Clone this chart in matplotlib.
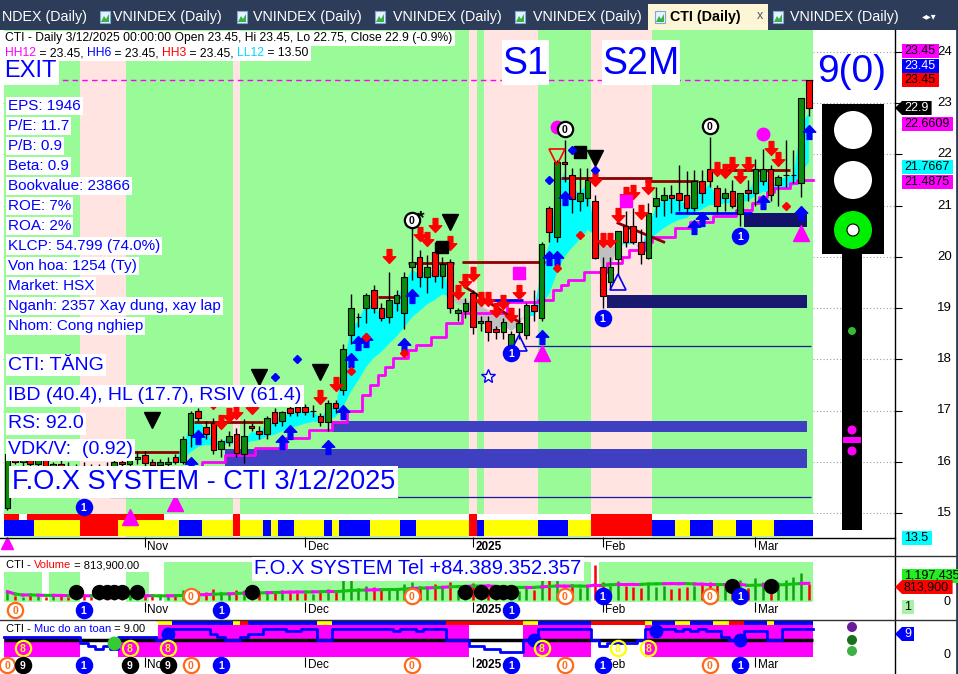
import matplotlib
matplotlib.use("Agg")
import matplotlib.pyplot as plt
from matplotlib.patches import Rectangle, Circle, Polygon
from matplotlib.path import Path
import numpy as np
import pandas as pd

plt.rcParams['font.family'] = ['Liberation Sans', 'DejaVu Sans']

# ---------------- values ----------------
opens = [
    15.10, 16.15, 16.00, 16.05, 15.95, 16.05, 15.90, 15.95, 15.90, 15.85,
    15.90, 15.85, 15.80, 15.90, 15.85, 16.00, 15.95, 16.05, 16.13, 15.99,
    15.93, 15.96, 16.09, 15.99, 16.52, 16.99, 16.68, 16.76, 16.24, 16.38,
    16.54, 16.15, 16.70, 16.60, 16.54, 16.97, 16.79, 17.05, 17.07, 17.07,
    17.00, 16.89, 16.77, 17.14, 17.40, 18.47, 18.83, 19.00, 19.35, 19.00,
    18.83, 19.10, 18.90, 19.80, 20.00, 19.60, 20.10, 19.63, 19.90, 18.90,
    18.94, 19.30, 18.71, 18.75, 18.60, 18.53, 18.24, 18.53, 18.47, 19.06,
    18.80, 20.95, 20.39, 21.86, 21.60, 21.10, 21.14, 21.10, 19.80, 19.51,
    19.96, 20.60, 20.60, 20.30, 19.98, 20.99, 21.11, 21.21, 21.24, 21.21,
    20.95, 21.49, 21.71, 21.35, 21.14, 21.29, 20.84, 21.30, 21.24, 21.49,
    21.71, 21.40, 21.60, 21.60, 21.45, 23.45]
highs = [
    16.25, 16.25, 16.10, 16.15, 16.10, 16.10, 16.00, 16.05, 16.00, 15.95,
    16.00, 15.95, 15.95, 16.00, 16.05, 16.10, 16.10, 16.20, 16.20, 16.05,
    16.05, 16.10, 16.15, 16.50, 17.00, 17.05, 16.80, 16.85, 16.45, 16.60,
    16.65, 16.83, 16.75, 16.70, 16.90, 17.05, 17.00, 17.10, 17.12, 17.12,
    17.10, 16.95, 17.20, 17.20, 18.30, 19.27, 18.90, 19.30, 19.45, 19.10,
    19.70, 19.35, 19.70, 20.60, 20.13, 20.03, 20.30, 20.00, 19.95, 19.00,
    19.20, 19.35, 18.85, 18.85, 18.65, 18.80, 18.55, 19.00, 19.10, 19.35,
    20.30, 21.00, 21.90, 22.28, 21.73, 21.73, 21.73, 21.20, 20.00, 20.00,
    20.50, 20.90, 20.95, 20.55, 21.05, 21.37, 21.37, 21.40, 21.80, 21.68,
    21.70, 21.70, 22.34, 21.40, 21.35, 21.50, 21.25, 21.50, 21.92, 22.10,
    21.80, 21.60, 22.28, 22.09, 23.10, 23.45]
lows = [
    15.05, 15.95, 15.90, 15.90, 15.85, 15.85, 15.80, 15.85, 15.80, 15.75,
    15.80, 15.75, 15.75, 15.80, 15.80, 15.90, 15.85, 15.95, 15.90, 15.85,
    15.85, 15.90, 15.95, 15.95, 16.28, 16.80, 16.45, 16.15, 16.10, 16.30,
    16.10, 15.97, 16.60, 16.45, 16.45, 16.70, 16.70, 16.90, 16.90, 16.92,
    16.87, 16.70, 16.60, 16.95, 17.30, 18.30, 18.63, 18.70, 18.90, 18.75,
    18.70, 18.95, 18.60, 19.55, 19.41, 19.30, 19.50, 19.40, 18.90, 18.75,
    18.80, 18.50, 18.55, 18.35, 18.40, 18.40, 18.15, 18.40, 18.40, 18.75,
    18.75, 20.30, 20.30, 21.46, 20.86, 20.90, 21.00, 19.95, 19.00, 19.37,
    19.65, 20.20, 20.25, 19.86, 19.95, 20.78, 20.80, 20.85, 20.90, 20.86,
    20.90, 21.05, 21.37, 20.86, 20.90, 20.95, 20.60, 21.10, 21.00, 21.40,
    21.10, 21.00, 21.37, 21.44, 21.17, 22.75]
closes = [
    16.15, 16.00, 16.05, 15.95, 16.05, 15.90, 15.95, 15.90, 15.85, 15.90,
    15.85, 15.80, 15.90, 15.85, 16.00, 15.95, 16.05, 16.10, 15.97, 15.93,
    16.00, 16.00, 15.99, 16.44, 16.95, 16.85, 16.54, 16.23, 16.40, 16.50,
    16.17, 16.50, 16.66, 16.54, 16.85, 16.76, 16.97, 16.95, 16.97, 16.97,
    17.00, 16.77, 17.14, 17.05, 18.20, 19.00, 18.83, 19.25, 19.00, 18.80,
    19.16, 19.25, 19.60, 19.90, 19.60, 19.80, 19.63, 19.86, 19.00, 18.96,
    19.10, 18.63, 18.75, 18.53, 18.53, 18.73, 18.49, 18.71, 19.06, 18.94,
    20.25, 20.48, 21.85, 21.81, 21.13, 21.24, 21.50, 19.98, 19.24, 19.80,
    20.50, 20.30, 20.30, 20.05, 20.86, 21.14, 21.21, 21.14, 21.11, 20.95,
    21.49, 21.24, 21.49, 21.00, 21.24, 21.00, 21.24, 21.24, 21.71, 21.71,
    21.21, 21.55, 21.60, 21.60, 23.10, 22.90]
volumes = [  # thousand shares
    420, 180, 150, 260, 200, 170, 240, 190, 160, 210,
    180, 150, 230, 200, 170, 260, 220, 190, 240, 300,
    210, 260, 280, 520, 610, 450, 380, 560, 420, 350,
    480, 510, 300, 330, 450, 400, 480, 350, 330, 360,
    300, 420, 560, 380, 1050, 1150, 620, 700, 640, 520,
    600, 560, 780, 900, 700, 650, 820, 600, 900, 520,
    480, 850, 450, 600, 520, 480, 560, 430, 700, 520,
    1100, 1000, 1300, 700, 800, 600, 700, 1750, 900, 700,
    950, 700, 650, 600, 850, 650, 700, 550, 600, 650,
    700, 750, 900, 800, 700, 650, 1000, 600, 1100, 900,
    850, 900, 1000, 1150, 1350, 814]

holidays = ['2025-01-01', '2025-01-27', '2025-01-28', '2025-01-29', '2025-01-30', '2025-01-31']
dates = pd.bdate_range('2024-10-08', '2025-03-12', freq='C', holidays=holidays)

# background / ribbon states per bar
main_bg = 'g' * 10 + 'p' * 6 + 'g' * 14 + 'p' + 'g' * 30 + 'p' + 'g' + 'p' * 7 + 'g' * 7 + 'p' * 8 + 'g' * 21
ribbon_top = 'rr' + 'w' + 'r' * 18 + 'w' * 9 + 'r' + 'w' * 30 + 'r' + 'w' * 15 + 'r' * 8 + 'w' * 21
ribbon_low = ('b' * 4 + 'y' * 6 + 'r' * 5 + 'y' * 8 + 'b' * 3 + 'y' * 4 + 'r' + 'y' * 3 + 'b' + 'y' + 'b' * 2
              + 'y' * 4 + 'b' + 'y' + 'b' * 4 + 'y' * 4 + 'b' * 2 + 'y' * 7 + 'r' + 'b' + 'y' * 7 + 'b' * 4
              + 'y' * 3 + 'r' * 8 + 'b' * 3 + 'y' * 2 + 'b' * 3 + 'y' * 3 + 'b' * 2 + 'y' * 3 + 'b' * 5)
vol_bg = 'g' * 5 + 'w' + 'g' * 4 + 'w' * 6 + 'g' * 3 + 'w' * 2 + 'g' * 56 + 'w' + 'g' * 28

safety = ([6] * 10 + [4, 3, 2, 3, 2] + [6] * 5 + [5, 5] + [9] * 5 + [7, 6] + [5, 5] + [6, 7, 7]
          + [9, 9, 9, 8, 8, 9, 9] + [5, 5] + [9] * 8 + [8] + [9, 9, 8, 9, 9, 9] + [5, 5, 5] + [3, 3]
          + [2, 2] + [1, 1, 1] + [5, 5] + [9] * 7 + [5, 3, 4, 4, 4, 4, 5] + [9] * 4
          + [8, 9, 8, 9, 8, 8] + [6, 5, 5] + [8, 8, 8] + [5, 5] + [9] * 4)
safety_fill = 'h' * 10 + 'w' * 5 + 'h' * 5 + 'f' * 41 + 'w' * 7 + 'f' * 9 + 'w' * 7 + 'f' * 22
safety_strip = ('n' * 20 + 'y' * 2 + 'b' * 8 + 'y' + 'r' + 'b' * 9 + 'y' * 2 + 'b' * 15 + 'r' * 10 + 'y' * 2
                + 'b' * 7 + 'r' * 7 + 'y' + 'b' * 3 + 'y' * 2 + 'b' * 3 + 'y' * 2 + 'r' * 2 + 'b' * 3 + 'y' + 'b' * 5)

stop_steps = [(14, 15.87), (26, 15.99), (29, 16.13), (33, 16.27), (37, 16.46), (40, 16.62), (43, 16.77),
              (45, 17.0), (47, 17.3), (48, 17.5), (49, 17.69), (50, 17.85), (51, 18.02), (53, 18.18),
              (54, 18.28), (56, 18.43), (58, 18.71), (60, 18.9), (66, 19.12), (70, 19.16), (72, 19.35),
              (73, 19.45), (74, 19.55), (76, 19.7), (79, 19.88), (81, 20.0), (82, 20.13), (84, 20.29),
              (85, 20.39), (88, 20.56), (90, 20.68), (93, 20.8), (96, 20.91), (98, 21.05), (99, 21.17),
              (100, 21.27), (101, 21.34), (103, 21.44), (104, 21.5)]
resist = [(17, 22, 16.19), (25, 33, 16.77), (49, 51, 19.21), (53, 58, 19.88), (60, 70, 19.9),
          (73, 84, 21.54), (84, 90, 21.48), (93, 102, 21.7)]
trend_lines = [((60, 19.41), (67, 18.73)), ((80, 20.66), (86, 20.29))]
blue_lines = [(63, 67, 19.16), (88, 97, 20.85)]
support_zones = [(29, 16.25, 15.88, '#3f3fc2'), (43, 16.79, 16.58, '#3f3fc2'),
                 (79, 19.25, 19.0, '#191970'), (97, 20.86, 20.58, '#12126a')]
thin_lines = [(14, 15.31), (68, 18.26)]
exit_level = 23.45

red_arrow_bars = [27, 28, 29, 30, 32, 41, 43, 50, 54, 55, 56, 58, 59, 60, 61, 62, 63, 64, 65, 66, 67,
                  77, 78, 79, 80, 81, 82, 83, 84, 93, 94, 95, 96, 97, 100, 101]
blue_arrow_bars = [24, 25, 36, 37, 42, 44, 45, 46, 47, 52, 53, 70, 71, 72, 73, 90, 91, 99, 104, 105]
black_tri = [(19, 16.81), (33, 17.65), (41, 17.75), (58, 20.68), (77, 21.93)]
magenta_sq = [(67, 19.68), (81, 21.1)]
black_sq = [(57, 20.19), (75, 22.05)]
magenta_big = [(72, 22.54), (99, 22.4)]
zero_marks = [(53, 20.72), (73, 22.5), (92, 22.55)]
one_marks = [(10, 15.11), (66, 18.12), (78, 18.8), (96, 20.4)]
red_dots = [(45, 17.77), (47, 18.43), (52, 18.12), (72, 19.78), (75, 20.43), (102, 21.0)]
blue_dots = [(35, 17.65), (38, 18.0), (71, 21.5), (74, 22.09), (77, 21.7)]
magenta_tri_up = [(16, 14.92), (22, 15.19), (70, 18.12), (104, 20.46)]
hollow_tri = [(67, 18.32), (80, 19.51)]

vol_dot_bars = [9, 12, 13, 14, 15, 17, 32, 60, 62, 64, 65, 66, 95, 100]
vol_dot_vals = [400, 400, 400, 400, 400, 400, 400, 400, 400, 400, 400, 400, 700, 700]
zero_bars = [0, 24, 53, 73, 92]
one_bars = [10, 28, 66, 78, 96]
nine_bars = [2, 16, 21]
eight_bars = [2, 16, 21, 70, 80, 84]
safety_dots = [(21, 7, 'blue'), (69, 5, 'blue'), (85, 8, 'blue'), (96, 5, 'blue'), (14, 4, '#33cc33')]

info_lines = ["EPS: 1946", "P/E: 11.7", "P/B: 0.9", "Beta: 0.9", "Bookvalue: 23866", "ROE: 7%",
              "ROA: 2%", "KLCP: 54.799 (74.0%)", "Von hoa: 1254 (Ty)", "Market: HSX",
              "Nganh: 2357 Xay dung, xay lap", "Nhom: Cong nghiep"]

# ---------------- figure ----------------
W, H = 958, 674
fig = plt.figure(figsize=(W / 100, H / 100), dpi=100)
fig.patch.set_facecolor('white')

GREEN, PINK = '#98fb98', '#ffe4e1'
CGREEN, CRED = '#0b8a0b', '#ff0000'
RB = {'b': '#0000ff', 'y': '#ffff00', 'r': '#ff0000', 'w': 'white'}


def px_axes(x0, y0, x1, y1):
    a = fig.add_axes([x0 / W, 1 - y1 / H, (x1 - x0) / W, (y1 - y0) / H])
    for s in a.spines.values():
        s.set_visible(False)
    a.set_facecolor('white')
    return a


def runs(states):
    out, start = [], 0
    for i in range(1, len(states) + 1):
        if i == len(states) or states[i] != states[start]:
            out.append((start, i - 1, states[start]))
            start = i
    return out


def arrow(up=True):
    v = [(-0.17, -0.5), (0.17, -0.5), (0.17, 0.02), (0.45, 0.02), (0, 0.5), (-0.45, 0.02), (-0.17, 0.02), (-0.17, -0.5)]
    if not up:
        v = [(x, -y) for x, y in v]
    return Path(v, [Path.MOVETO] + [Path.LINETO] * 6 + [Path.CLOSEPOLY])


def badge(a, x, y, txt, face, edge, tcol, tr=None, ms=11, fs=7.5):
    tr = a.transData if tr is None else tr
    a.plot([x], [y], 'o', ms=ms, mfc=face, mec=edge, mew=1.6, transform=tr, clip_on=False, zorder=9)
    a.text(x, y, txt, transform=tr, ha='center', va='center_baseline', fontsize=fs,
           fontweight='bold', color=tcol, clip_on=False, zorder=10)


n = len(closes)
idx = np.arange(n)
o, h, l, c = map(np.array, (opens, highs, lows, closes))
up = c >= o
XL = (-0.58, 116.3)
month_pos = [i for i in range(1, n) if dates[i].month != dates[i - 1].month]
month_lab = [str(dates[i].year) if dates[i].month == 1 else dates[i].strftime('%b') for i in month_pos]

# ---------------- main price panel ----------------
ax = px_axes(3, 30, 895, 537)
ax.set_xlim(*XL)
ax.set_ylim(14.53, 24.43)
ax.hlines(range(15, 25), *XL, colors='#a0a0a0', linestyles=(0, (1, 2)), lw=0.8, zorder=0.2)
for a0, a1, s in runs(main_bg):
    ax.axvspan(a0 - 0.5, a1 + 0.5, color=GREEN if s == 'g' else PINK, lw=0, zorder=0.5)

xt = ax.get_xaxis_transform()
for a0, a1, s in runs(ribbon_top):
    ax.add_patch(Rectangle((a0 - 0.5, 0.0335), a1 - a0 + 1, 0.012, transform=xt, fc=RB[s], ec='none', zorder=2.5))
for a0, a1, s in runs(ribbon_low):
    ax.add_patch(Rectangle((a0 - 0.5, 0.002), a1 - a0 + 1, 0.0315, transform=xt, fc=RB[s], ec='none', zorder=2.5))

# trend cloud: fast vs slow average of the closes
fast = pd.Series(closes).ewm(span=2, adjust=False).mean().values
slow = pd.Series(closes).ewm(span=12, adjust=False).mean().values
s0 = 20
ax.fill_between(idx[s0:], fast[s0:], slow[s0:], where=fast[s0:] >= slow[s0:], color='#00ffff', interpolate=True, lw=0, zorder=1)
ax.fill_between(idx[s0:], fast[s0:], slow[s0:], where=fast[s0:] < slow[s0:], color='#c0c0c0', interpolate=True, lw=0, zorder=1)

for start, top, bot, col in support_zones:
    ax.add_patch(Rectangle((start - 0.5, bot), 105.3 - start, top - bot, fc=col, ec='none', zorder=1.5))
for start, lev in thin_lines:
    ax.hlines(lev, start - 0.5, 105.3, colors='#1a1a9a', lw=0.9, zorder=1.6)
ax.hlines(exit_level, -0.5, 105.5, colors='#ff00ff', linestyles=(0, (4, 3)), lw=1, zorder=1.6)

stop = np.full(n, np.nan)
for k, (b, v) in enumerate(stop_steps):
    e = stop_steps[k + 1][0] if k + 1 < len(stop_steps) else n
    stop[b:e] = v
sx = np.append(idx - 0.5, n - 0.5)
ax.step(sx, np.append(stop, stop[-1]), where='post', color='#ff00ff', lw=2, zorder=2)
for b0, b1, v in resist:
    ax.hlines(v, b0 - 0.5, b1 + 0.5, colors='#8b0000', lw=2, zorder=2)
for (b0, v0), (b1, v1) in trend_lines:
    ax.plot([b0, b1], [v0, v1], color='#8b0000', lw=2, zorder=2)
for b0, b1, v in blue_lines:
    ax.hlines(v, b0 - 0.5, b1 + 0.5, colors='#0000ff', lw=2, zorder=2)

ax.vlines(idx, l, h, colors='black', lw=1, zorder=3)
ax.bar(idx, np.abs(c - o), bottom=np.minimum(o, c), width=0.74,
       color=np.where(up, CGREEN, CRED), edgecolor='black', linewidth=0.8, zorder=3.5)

ra = np.array(red_arrow_bars)
ba = np.array(blue_arrow_bars)
ax.plot(ra, h[ra] + 0.32, ls='none', marker=arrow(False), ms=10, color=CRED, mec=CRED, zorder=4)
ax.plot(ba, l[ba] - 0.32, ls='none', marker=arrow(True), ms=10, color='#0000ff', mec='#0000ff', zorder=4)


def pts(lst):
    return [p[0] for p in lst], [p[1] for p in lst]


ax.plot(*pts(black_tri), ls='none', marker='v', ms=11, color='black', zorder=4)
ax.plot(*pts(magenta_sq), ls='none', marker='s', ms=9, color='#ff00ff', zorder=4)
ax.plot(*pts(black_sq), ls='none', marker='s', ms=9, color='black', zorder=4)
ax.plot(*pts(magenta_big), ls='none', marker='o', ms=9, color='#ff00ff', zorder=4)
ax.plot(*pts(red_dots), ls='none', marker='D', ms=4.5, color=CRED, zorder=4)
ax.plot(*pts(blue_dots), ls='none', marker='D', ms=4.5, color='#0000ff', zorder=4)
ax.plot(*pts(magenta_tri_up), ls='none', marker='^', ms=11, color='#ff00ff', zorder=4, clip_on=False)
ax.plot(*pts(hollow_tri), ls='none', marker='^', ms=11, mfc='none', mec='#0000ff', mew=1.2, zorder=4)
ax.plot([72], [21.95], ls='none', marker='v', ms=11, mfc='none', mec=CRED, mew=1.2, zorder=4)
ax.plot([63], [17.67], ls='none', marker='*', ms=10, mfc='white', mec='#0000ff', zorder=4)
ax.plot([0], [-0.012], ls='none', marker='^', ms=9, color='#ff00ff', transform=xt, clip_on=False, zorder=4)
for b, v in zero_marks:
    badge(ax, b, v, '0', 'white', 'black', 'black')
ax.text(54.2, 20.75, '*', fontsize=14, fontweight='bold', color='black', ha='center', va='center', zorder=10)
for b, v in one_marks:
    badge(ax, b, v, '1', '#0000ff', '#0000ff', 'white')

ax.yaxis.tick_right()
ax.set_yticks(range(15, 25))
ax.tick_params(axis='y', direction='out', length=5, labelright=False, labelleft=False, left=False)
ax.set_xticks(month_pos)
ax.tick_params(axis='x', direction='out', length=7, width=0.8, labelbottom=False)

# ---------------- volume panel ----------------
vax = px_axes(3, 556, 895, 602)
vax.set_xlim(*XL)
vax.set_ylim(-100, 2200)
for a0, a1, s in runs(vol_bg):
    if s == 'g':
        vax.axvspan(a0 - 0.5, a1 + 0.5, ymin=0, ymax=0.87, color=GREEN, lw=0, zorder=0.5)
vol = np.array(volumes)
vax.vlines(idx, 0, vol, colors=np.where(up, '#10a010', CRED), lw=1.8, zorder=2)
ma = pd.Series(vol).rolling(20, min_periods=1).mean().values
for i in range(1, n):
    vax.plot([i - 1, i], [ma[i - 1], ma[i]], color='#10c010' if up[i] else '#ff00ff', lw=2.2, zorder=3)
vax.plot(vol_dot_bars, vol_dot_vals, ls='none', marker='o', ms=10, color='black', zorder=4)
vax.set_yticks([])
vax.set_xticks(month_pos)
vax.tick_params(axis='x', direction='out', length=7, width=0.8, labelbottom=False)
vxt = vax.get_xaxis_transform()
for b in [24, 53, 73, 92]:
    badge(vax, b, 0.13, '0', 'white', '#ff6a1a', '#ff6a1a', tr=vxt)
for b in [78, 96]:
    badge(vax, b, 0.13, '1', '#0000ff', '#0000ff', 'white', tr=vxt)
badge(vax, 1, -0.174, '0', 'white', '#ff6a1a', '#ff6a1a', tr=vxt)
for b in [10, 28, 66]:
    badge(vax, b, -0.174, '1', '#0000ff', '#0000ff', 'white', tr=vxt)

# ---------------- safety panel ----------------
bax = px_axes(3, 620, 895, 657)
bax.set_xlim(*XL)
bax.set_ylim(-0.68, 11.91)
lev = np.array(safety, dtype=float)
for i, s in enumerate(safety_fill):
    if s == 'f':
        bax.bar(i, 10.2 + 0.68, bottom=-0.68, width=1.0, color='#ff00ff', lw=0, zorder=1)
    elif s == 'h':
        bax.bar(i, lev[i] + 0.68, bottom=-0.68, width=1.0, color='#ff00ff', lw=0, zorder=1)
bxt = bax.get_xaxis_transform()
for a0, a1, s in runs(safety_strip):
    if s != 'n':
        bax.add_patch(Rectangle((a0 - 0.5, 0.865), a1 - a0 + 1, 0.135, transform=bxt, fc=RB[s], ec='none', zorder=2))
bax.hlines(5.1, -0.5, n - 0.5, colors='black', lw=2.5, zorder=2)
bax.step(sx, np.append(lev, lev[-1]), where='post', color='#0000ff', lw=2, zorder=3)
for b, v, col in safety_dots:
    bax.plot([b], [v], 'o', ms=9, color=col, zorder=4)
for b in eight_bars:
    badge(bax, b, 2.4, '8', 'none', '#ffff00', '#ffff00', ms=11)
bax.set_yticks([])
bax.set_xticks(month_pos)
bax.tick_params(axis='x', direction='out', length=7, width=0.8, labelbottom=False)
for b in zero_bars:
    badge(bax, b, -0.216, '0', 'white', '#ff6a1a', '#ff6a1a', tr=bxt)
for b in one_bars:
    badge(bax, b, -0.216, '1', '#0000ff', '#0000ff', 'white', tr=bxt)
for b in nine_bars:
    badge(bax, b, -0.216, '9', 'black', 'black', 'white', tr=bxt)

for a, yy in ((ax, -0.0197), (vax, -0.174), (bax, -0.216)):
    for p, lab in zip(month_pos, month_lab):
        a.text(p + 0.35, yy, lab, transform=a.get_xaxis_transform(), fontsize=8.5, ha='left',
               va='center', fontweight='bold' if lab.isdigit() else 'normal', clip_on=False, zorder=8)

# ---------------- overlay (tabs, texts, widgets) ----------------
ov = fig.add_axes([0, 0, 1, 1])
ov.set_xlim(0, W)
ov.set_ylim(H, 0)
ov.axis('off')
ov.patch.set_alpha(0)
ov.set_zorder(20)

ov.add_patch(Rectangle((0, 0), W, 30, fc='#2d3c59', ec='none'))
tab_text_x = [2, 113, 253, 393, 533, 790]
for k, tx in enumerate(tab_text_x):
    ov.text(tx, 17, 'NDEX (Daily)' if k == 0 else 'VNINDEX (Daily)', color='white', fontsize=10.3, va='center')
ov.add_patch(Rectangle((648, 4), 120, 26, fc='#fdf6d6', ec='none'))
for ix in [100, 237, 375, 515, 655, 773]:
    ov.add_patch(Rectangle((ix, 11), 10, 12, fc='#e6f2ff', ec='#7fa7d8', lw=0.8))
    ov.add_patch(Polygon([(ix + 1, 22), (ix + 4, 16), (ix + 6, 19), (ix + 9, 14), (ix + 9, 22)], fc='#3cb043', ec='none'))
ov.text(670, 17, 'CTI (Daily)', color='black', fontsize=10.3, fontweight='bold', va='center')
ov.text(757, 16, 'x', color='#555555', fontsize=9, va='center')
ov.text(922, 16, '\u25c2\u25b8\u25be', color='white', fontsize=7, va='center', family='DejaVu Sans')

# frame lines
ov.plot([895, 895], [30, H], color='black', lw=1)
ov.plot([0, 895], [537.5, 537.5], color='black', lw=1)
ov.plot([0, W], [556, 556], color='#303030', lw=1)
ov.plot([0, W], [619.5, 619.5], color='#303030', lw=1)
ov.plot([957, 957], [30, H], color='#2d3c59', lw=2)

# header
ov.add_patch(Rectangle((3, 31), 452, 15, fc='white', ec='none'))
ov.add_patch(Rectangle((3, 46), 308, 15, fc='white', ec='none'))
ov.text(5, 38.5, 'CTI - Daily 3/12/2025 00:00:00 Open 23.45, Hi 23.45, Lo 22.75, Close 22.9 (-0.9%)', fontsize=8.7, va='center')


def multi_text(x, y, parts, fs):
    t = ov.text(x, y, parts[0][0], color=parts[0][1], fontsize=fs, va='center', ha='left', zorder=25)
    for s, col in parts[1:]:
        t = ov.annotate(s, xy=(1, 0), xycoords=t, xytext=(0, 0), textcoords='offset points',
                        color=col, fontsize=fs, va='bottom', ha='left', zorder=25)


multi_text(5, 53.5, [('HH12', '#ff00ff'), (' = 23.45, ', 'black'), ('HH6', '#0000ff'), (' = 23.45, ', 'black'),
                     ('HH3', '#ff0000'), (' = 23.45, ', 'black'), ('LL12', '#00d8ff'), (' = 13.50', 'black')], 8.7)

wb = dict(boxstyle='square,pad=0.12', fc='white', ec='none')
ov.text(4, 71, 'EXIT', color='#0000ff', fontsize=17, va='center', bbox=wb)
for k, s in enumerate(info_lines):
    ov.text(8, 106 + 20 * k, s, color='#0000ff', fontsize=11, va='center', bbox=wb)
ov.text(8, 365, 'CTI: T\u0102NG', color='#0000ff', fontsize=14, va='center', bbox=wb)
ov.text(8, 396, 'IBD (40.4), HL (17.7), RSIV (61.4)', color='#0000ff', fontsize=14, va='center', bbox=wb)
ov.text(8, 424, 'RS: 92.0', color='#0000ff', fontsize=14, va='center', bbox=wb)
ov.text(8, 450, 'VDK/V:  (0.92)', color='#0000ff', fontsize=14, va='center', bbox=wb)
ov.text(12, 482, 'F.O.X SYSTEM - CTI 3/12/2025', color='#0000ff', fontsize=19.5, va='center',
        bbox=dict(boxstyle='square,pad=0.1', fc='white', ec='none'))
ov.add_patch(Rectangle((502, 40), 47, 45, fc='white', ec='none'))
ov.add_patch(Rectangle((602, 40), 78, 45, fc='white', ec='none'))
ov.text(525.5, 64, 'S1', color='#0000ff', fontsize=27, ha='center', va='center')
ov.text(641, 64, 'S2M', color='#0000ff', fontsize=27, ha='center', va='center')
ov.text(852, 72, '9(0)', color='#0000ff', fontsize=28, ha='center', va='center')

# traffic light
ov.add_patch(Rectangle((822, 104), 62, 150, fc='black', ec='none'))
ov.add_patch(Rectangle((842, 254), 20, 276, fc='black', ec='none'))
ov.add_patch(Circle((853, 130), 19, fc='white', ec='none'))
ov.add_patch(Circle((853, 180), 19, fc='white', ec='none'))
ov.add_patch(Circle((853, 230), 19, fc='#00ee00', ec='none'))
ov.add_patch(Circle((853, 230), 6, fc='white', ec='black', lw=0.8))
ov.add_patch(Circle((852, 331), 4, fc='#33bb33', ec='none'))
ov.add_patch(Circle((852, 430), 4.5, fc='#ff00ff', ec='none'))
ov.add_patch(Circle((852, 451), 4.5, fc='#ff00ff', ec='none'))
ov.add_patch(Rectangle((843, 437), 18, 6, fc='#ff00ff', ec='none'))
ov.add_patch(Circle((852, 627), 5, fc='#6a1b9a', ec='none'))
ov.add_patch(Circle((852, 640), 5, fc='#1b6e1b', ec='none'))
ov.add_patch(Circle((852, 651), 5, fc='#3cb043', ec='none'))

# price scale
for p in range(15, 25):
    ov.text(952, 52 + (24 - p) * 51.2, str(p), fontsize=9.5, ha='right', va='center')


def tag(y, txt, face, tcol='black', x0=902, pointed=False, fs=9):
    w = sum(7.0 if ch.isdigit() else 3.6 for ch in txt) + 5
    x1 = x0 + w
    if pointed:
        ov.add_patch(Polygon([(895, y), (902, y - 7), (x1, y - 7), (x1, y + 7), (902, y + 7)], fc=face, ec='none', zorder=30))
    else:
        ov.add_patch(Rectangle((x0, y - 7), w, 14, fc=face, ec='none', zorder=30))
    ov.text(x0 + 2, y, txt, fontsize=fs, color=tcol, va='center', ha='left', zorder=31)


tag(51, '23.45', '#ff00ff')
tag(66, '23.45', '#0000ff', 'white')
tag(80, '23.45', '#ff0000')
tag(108, '22.9', 'black', 'white', pointed=True)
tag(124, '22.6609', '#ff00ff')
tag(167, '21.7667', '#00ffff')
tag(182, '21.4875', '#ff00ff')
tag(538, '13.5', '#00ffff')
tag(576, '1,197,435', '#22ee22')
tag(587, '813,900', '#ff0000', pointed=True)
tag(607, '1', '#a8f0a8')
tag(634, '9', '#0000ff', 'white', pointed=True)
ov.text(944, 602, '0', fontsize=9, va='center')
ov.text(944, 655, '0', fontsize=9, va='center')

# panel titles
ov.add_patch(Rectangle((3, 558), 150, 14, fc='white', ec='none'))
multi_text(6, 565, [('CTI - ', 'black'), ('Volume', '#ff0000'), (' = 813,900.00', 'black')], 8)
ov.text(418, 569, 'F.O.X SYSTEM Tel +84.389.352.357', color='#0000ff', fontsize=14.5, ha='center',
        va='center', bbox=dict(boxstyle='square,pad=0.12', fc='white', ec='none'))
ov.add_patch(Rectangle((3, 622), 155, 14, fc='white', ec='none'))
multi_text(6, 629, [('CTI - ', 'black'), ('Muc do an toan', '#0000ff'), (' = 9.00', 'black')], 8)

fig.savefig('out.png', dpi=100)
